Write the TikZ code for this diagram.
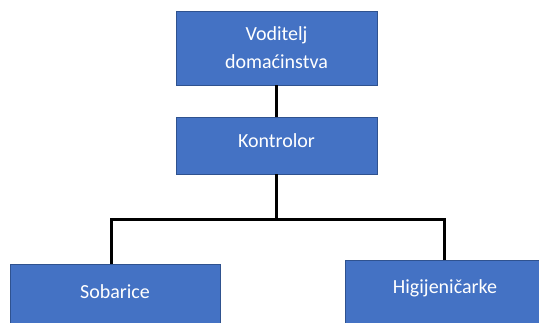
\documentclass[tikz,border=0pt]{standalone}
\usepackage{fontspec}
\setmainfont{Carlito}
\definecolor{boxfill}{HTML}{4472C4}
\definecolor{boxline}{HTML}{2F528F}
\begin{document}
\begin{tikzpicture}[x=1pt,y=-1pt,
  box/.style={draw=boxline, fill=boxfill, line width=0.8pt, text=white,
    font=\fontsize{20}{28}\selectfont, align=center, inner sep=0pt},
  single/.style={text height=14pt, text depth=10pt},
  link/.style={line width=3pt, draw=black, line join=miter}]
\useasboundingbox (0,0) rectangle (539,322);
\clip (0,0) rectangle (539,322);
\node[box, minimum width=201pt, minimum height=74pt] (vod) at (276.5,48) {Voditelj\\domaćinstva};
\node[box, single, minimum width=201pt, minimum height=57pt] (kon) at (276.5,145.5) {Kontrolor};
\node[box, text height=14pt, text depth=26pt, minimum width=210pt, minimum height=80pt] (sob) at (115,304) {Sobarice};
\node[box, text height=14pt, text depth=28pt, minimum width=200pt, minimum height=80pt] (hig) at (445,300) {Higijeničarke};
\draw[link] (vod) -- (kon);
\draw[link] (kon.south) -- ++(0,45) coordinate (mid);
\draw[link] ([xshift=-4pt]sob.north) |- (mid) -| ([xshift=-1pt]hig.north);
\end{tikzpicture}
\end{document}
